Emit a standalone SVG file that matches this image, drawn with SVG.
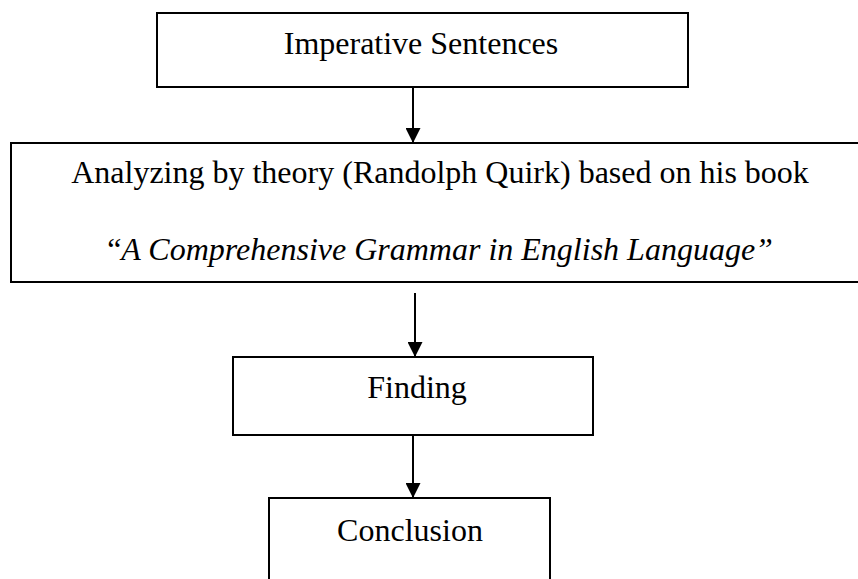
<svg xmlns="http://www.w3.org/2000/svg" width="858" height="579" viewBox="0 0 858 579">
<defs>
<style>
.box{fill:#fff;stroke:#000;stroke-width:2}
.t{font-family:"Liberation Serif","Times New Roman",serif;font-size:32px;fill:#000;text-anchor:middle}
.i{font-style:italic}
.c{stroke:#000;stroke-width:2;fill:none}
</style>
<marker id="ah" markerWidth="15" markerHeight="15" refX="15" refY="7.5" orient="auto" markerUnits="userSpaceOnUse">
<path d="M0,0 L15,7.5 L0,15 Z" fill="#000"/>
</marker>
</defs>
<rect width="858" height="579" fill="#fff"/>
<g id="n1">
<rect class="box" x="157" y="13" width="531" height="74"/>
<text class="t" x="421" y="54">Imperative Sentences</text>
</g>
<g id="n2">
<rect class="box" x="11" y="143" width="870" height="139"/>
<text class="t" x="440" y="183">Analyzing by theory (Randolph Quirk) based on his book</text>
<text class="t" x="440" y="260">“<tspan class="i">A Comprehensive Grammar in English Language”</tspan></text>
</g>
<g id="n3">
<rect class="box" x="233" y="357" width="360" height="78"/>
<text class="t" x="417" y="398">Finding</text>
</g>
<g id="n4">
<rect class="box" x="269" y="498" width="281" height="100"/>
<text class="t" x="410" y="541">Conclusion</text>
</g>
<g id="connectors">
<line class="c" x1="413" y1="87" x2="413" y2="143" marker-end="url(#ah)"/>
<line class="c" x1="415" y1="293" x2="415" y2="357" marker-end="url(#ah)"/>
<line class="c" x1="413" y1="435" x2="413" y2="498" marker-end="url(#ah)"/>
</g>
</svg>
